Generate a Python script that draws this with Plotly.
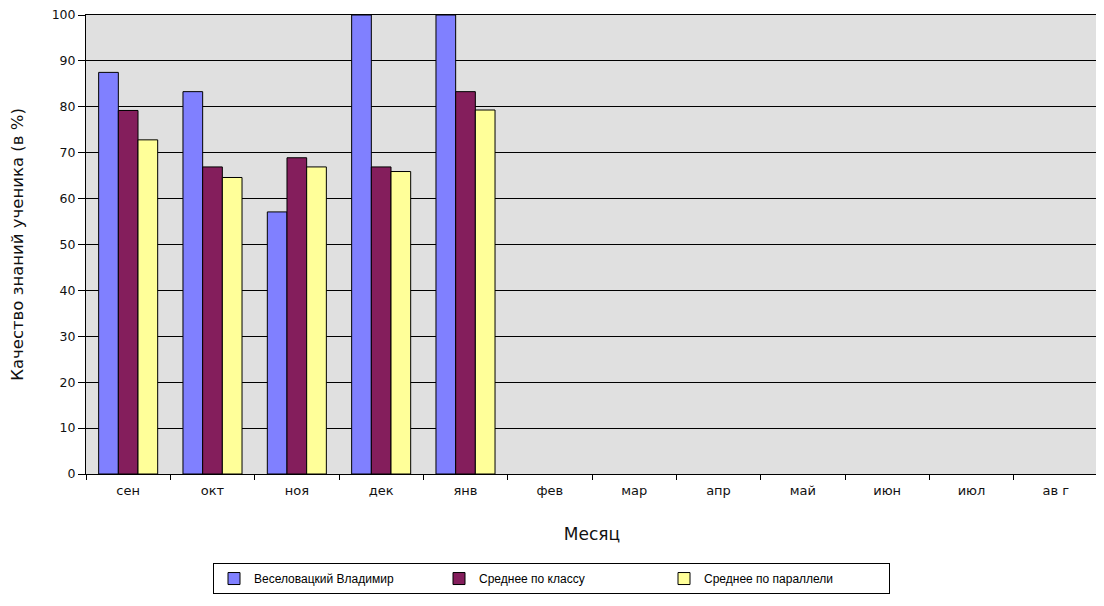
import plotly.graph_objects as go

months = ["сен", "окт", "ноя", "дек", "янв", "фев", "мар", "апр", "май", "июн", "июл", "ав г"]
student = [87.5, 83.3, 57.1, 100, 100, None, None, None, None, None, None, None]
class_avg = [79.2, 66.9, 68.9, 66.9, 83.3, None, None, None, None, None, None, None]
parallel_avg = [72.8, 64.6, 66.9, 65.9, 79.3, None, None, None, None, None, None, None]

series_names = ["Веселовацкий Владимир", "Среднее по классу", "Среднее по параллели"]
colors = ["#8080FF", "#841E5C", "#FFFF99"]

fig = go.Figure()
for name, vals, col in zip(series_names, [student, class_avg, parallel_avg], colors):
    fig.add_trace(go.Bar(
        x=months, y=vals, name=name,
        marker=dict(color=col, line=dict(color="black", width=1)),
    ))

lib = "Liberation Sans, Arial, sans-serif"
dejavu = "DejaVu Sans, sans-serif"
fig.update_layout(
    width=1096, height=598,
    margin=dict(l=78, r=6, t=7, b=132, autoexpand=False),
    paper_bgcolor="white",
    plot_bgcolor="#E0E0E0",
    barmode="group",
    bargap=0.3,
    bargroupgap=0,
    font=dict(family=lib, size=12, color="black"),
    showlegend=True,
    legend=dict(
        orientation="h",
        x=0.1255, y=-0.194, xanchor="left", yanchor="top",
        bordercolor="black", borderwidth=1,
        entrywidth=180, entrywidthmode="pixels",
        itemwidth=30,
        font=dict(family=lib, size=12),
    ),
)
fig.update_xaxes(
    type="category", automargin=False,
    showline=True, linecolor="black", linewidth=1, mirror=True,
    ticks="outside", tickson="boundaries", ticklen=5, tickcolor="black",
    ticklabelstandoff=4,
    showgrid=False,
    title=dict(text="Месяц", font=dict(family=dejavu, size=17, color="#111111"), standoff=31),
    tickfont=dict(family=dejavu, size=13, color="#111111"),
)
fig.update_yaxes(
    range=[0, 100], dtick=10, automargin=False,
    showline=True, linecolor="black", linewidth=1, mirror=True,
    ticks="outside", ticklen=7, tickcolor="black",
    ticklabeloverflow="allow",
    showgrid=True, gridcolor="black", gridwidth=1,
    zeroline=False,
    title=dict(text="Качество знаний ученика (в %)", font=dict(family=dejavu, size=16.5, color="#111111"), standoff=32),
    tickfont=dict(family=dejavu, size=12.5, color="#111111"),
)

fig.write_html("out.html")
